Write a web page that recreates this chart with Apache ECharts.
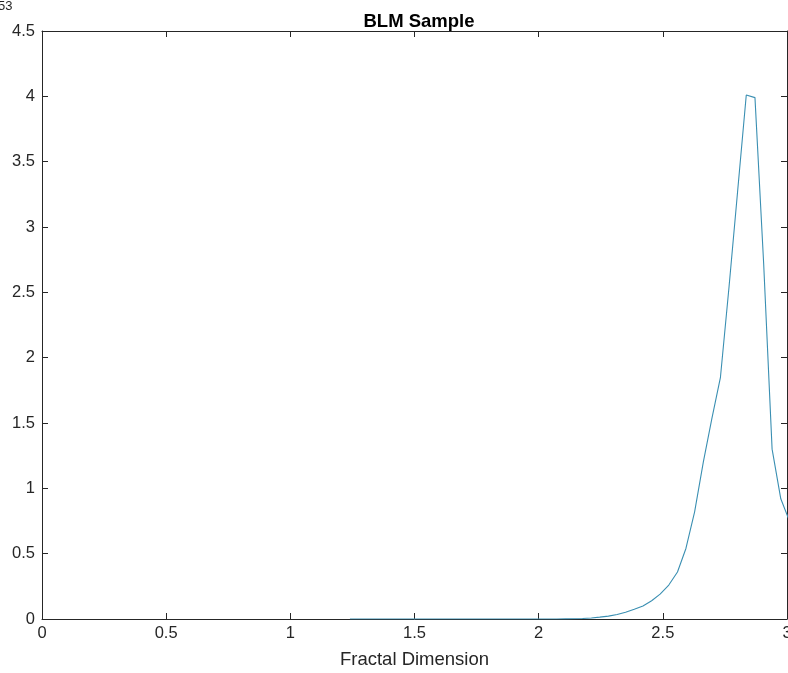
<!DOCTYPE html>
<html>
<head>
<meta charset="utf-8">
<script src="https://cdn.jsdelivr.net/npm/echarts@6/dist/echarts.min.js"></script>
<style>
html,body{margin:0;padding:0;background:#fff;}
#chart{width:788px;height:673px;}
</style>
</head>
<body>
<div id="chart"></div>
<script>
// Data
const titleText = 'BLM Sample';
const xAxisName = 'Fractal Dimension';
const exponentText = '53';
const xTicks = [0, 0.5, 1, 1.5, 2, 2.5, 3];
const yTicks = [0, 0.5, 1, 1.5, 2, 2.5, 3, 3.5, 4, 4.5];

const fractalDim = [
  1.240, 1.275, 1.309, 1.344, 1.379, 1.414, 1.448, 1.483, 1.518, 1.552,
  1.587, 1.622, 1.656, 1.691, 1.726, 1.761, 1.795, 1.830, 1.865, 1.899,
  1.934, 1.969, 2.003, 2.038, 2.073, 2.108, 2.142, 2.177, 2.212, 2.246,
  2.281, 2.316, 2.350, 2.385, 2.420, 2.455, 2.489, 2.524, 2.559, 2.593,
  2.628, 2.663, 2.697, 2.732, 2.767, 2.801, 2.836, 2.871, 2.906, 2.940,
  2.975, 3.010
];
const density = [
  0, 0, 0, 0, 0, 0, 0, 0, 0, 0,
  0, 0, 0, 0, 0, 0, 0, 0, 0, 0,
  0, 0, 0, 0, 0, 0.001, 0.002, 0.004, 0.008, 0.014,
  0.022, 0.035, 0.052, 0.075, 0.10, 0.14, 0.19, 0.26, 0.36, 0.54,
  0.82, 1.20, 1.53, 1.85, 2.55, 3.27, 4.01, 3.99, 2.72, 1.30,
  0.92, 0.75
];

const seriesData = fractalDim.map((x, i) => [x, density[i]]);

const axisColor = '#262626';
const font = '"Liberation Sans", Arial, Helvetica, sans-serif';

const chart = echarts.init(document.getElementById('chart'), null, {renderer: 'canvas'});
const baseX = {
  type: 'value', min: xTicks[0], max: xTicks[xTicks.length - 1], interval: 0.5,
  splitLine: {show: false},
  axisLine: {show: true, onZero: false, lineStyle: {color: axisColor, width: 1}},
  axisTick: {show: true, inside: true, length: 6, lineStyle: {color: axisColor}}
};
const baseY = {
  type: 'value', min: yTicks[0], max: yTicks[yTicks.length - 1], interval: 0.5,
  splitLine: {show: false},
  axisLine: {show: true, onZero: false, lineStyle: {color: axisColor, width: 1}},
  axisTick: {show: true, inside: true, length: 6, lineStyle: {color: axisColor}}
};

chart.setOption({
  animation: false,
  backgroundColor: '#ffffff',
  title: {
    text: titleText, left: 414, top: 7, textAlign: 'center',
    textStyle: {fontFamily: font, fontSize: 18.5, fontWeight: 'bold', color: '#000'}
  },
  graphic: [{
    type: 'text', left: -2, top: 0,
    style: {text: exponentText, fontFamily: font, fontSize: 13, fill: axisColor}
  }],
  grid: {left: 42, right: 1, top: 31, bottom: 54, containLabel: false, outerBoundsMode: 'none'},
  xAxis: [
    Object.assign({}, baseX, {
      position: 'bottom',
      name: xAxisName, nameLocation: 'middle', nameGap: 33,
      nameTextStyle: {fontFamily: font, fontSize: 18.5, color: axisColor, verticalAlign: 'top', padding: [-2, 0, 0, 0]},
      axisLabel: {show: true, margin: 6, fontFamily: font, fontSize: 16.5, color: axisColor,
        formatter: v => String(v)}
    }),
    Object.assign({}, baseX, {position: 'top', axisLabel: {show: false}})
  ],
  yAxis: [
    Object.assign({}, baseY, {
      position: 'left',
      axisLabel: {show: true, margin: 7, fontFamily: font, fontSize: 16.5, color: axisColor,
        formatter: v => String(v)}
    }),
    Object.assign({}, baseY, {position: 'right', axisLabel: {show: false}})
  ],
  series: [{
    type: 'line',
    xAxisIndex: 0, yAxisIndex: 0,
    data: seriesData,
    showSymbol: false,
    clip: true,
    lineStyle: {color: '#3a8fb2', width: 1.1},
    emphasis: {disabled: true}
  }]
});
</script>
</body>
</html>
